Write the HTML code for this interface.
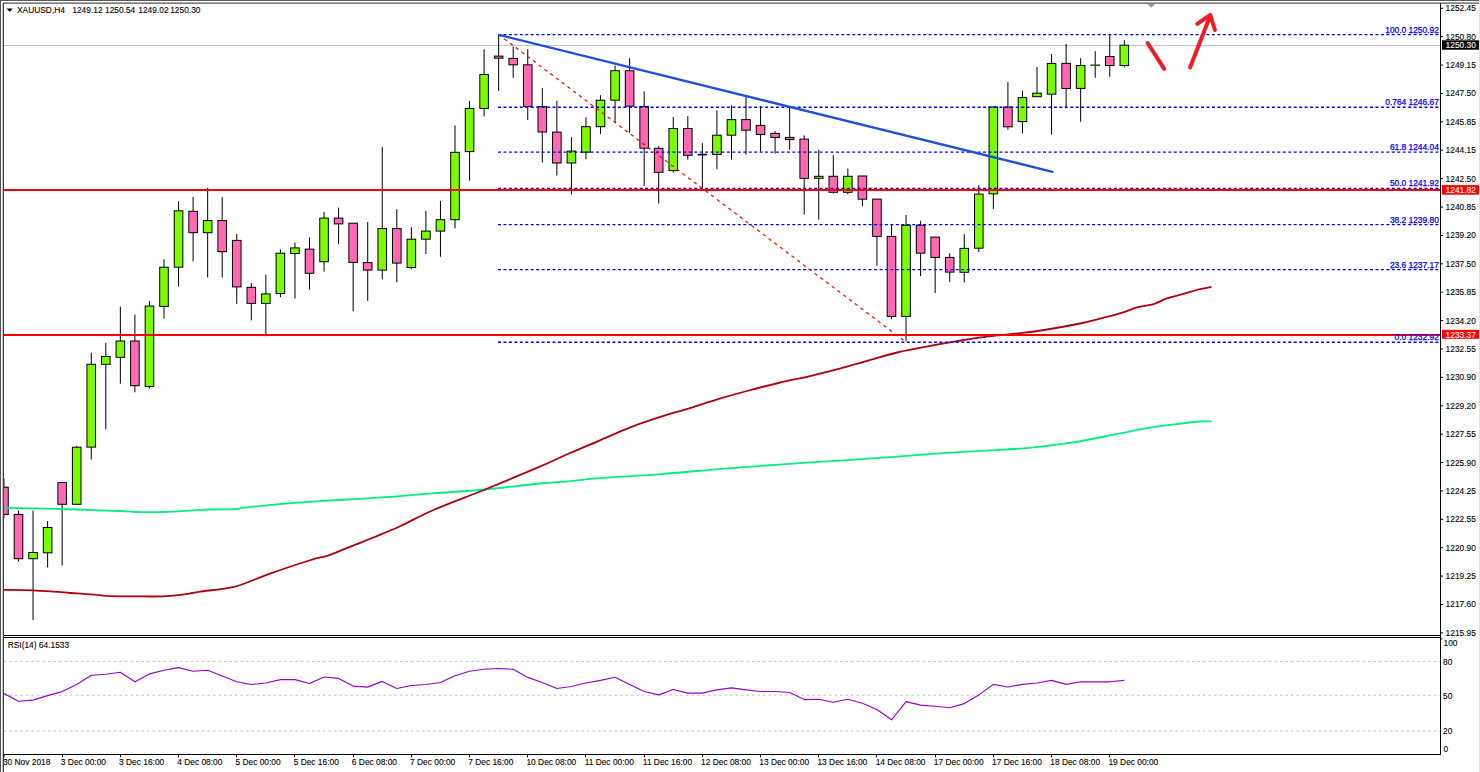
<!DOCTYPE html>
<html><head><meta charset="utf-8"><title>XAUUSD,H4</title>
<style>html,body{margin:0;padding:0;background:#fff;}body{width:1480px;height:772px;overflow:hidden;}svg{display:block;}text{font-family:"Liberation Sans",Arial,sans-serif;font-size:8.4px;fill:#000;stroke:#000;stroke-width:0.1px;}.fib{fill:#0000ff;stroke:#0000ff;stroke-width:0.25px;}.wl{fill:#fff;stroke:#fff;}</style></head><body>
<svg width="1480" height="772" viewBox="0 0 1480 772">
<rect x="0" y="0" width="1480" height="772" fill="#fff"/>
<defs><clipPath id="cm"><rect x="4" y="4" width="1436" height="631"/></clipPath><clipPath id="cr"><rect x="4" y="638" width="1436" height="116"/></clipPath></defs>
<g clip-path="url(#cm)">
<rect x="4" y="45" width="1436" height="1" fill="#c4c4c4"/>
<rect x="3.45" y="478.5" width="1" height="39.5" fill="#000"/>
<rect x="-0.85" y="486.7" width="9.6" height="28.2" fill="#000"/>
<rect x="0.15" y="487.7" width="7.6" height="26.2" fill="#FF69B4"/>
<rect x="18" y="510.6" width="1" height="50.9" fill="#000"/>
<rect x="13.7" y="513.9" width="9.6" height="45.3" fill="#000"/>
<rect x="14.7" y="514.9" width="7.6" height="43.3" fill="#FF69B4"/>
<rect x="32.55" y="510.6" width="1" height="109.4" fill="#000"/>
<rect x="28.25" y="552" width="9.6" height="7.2" fill="#000"/>
<rect x="29.25" y="553" width="7.6" height="5.2" fill="#7CFC00"/>
<rect x="47.1" y="521.2" width="1" height="46.2" fill="#000"/>
<rect x="42.8" y="527" width="9.6" height="26.3" fill="#000"/>
<rect x="43.8" y="528" width="7.6" height="24.3" fill="#7CFC00"/>
<rect x="61.65" y="482.6" width="1" height="82.9" fill="#000"/>
<rect x="57.35" y="482.1" width="9.6" height="22.7" fill="#000"/>
<rect x="58.35" y="483.1" width="7.6" height="20.7" fill="#FF69B4"/>
<rect x="76.2" y="445.8" width="1" height="58.5" fill="#000"/>
<rect x="71.9" y="446.7" width="9.6" height="58.1" fill="#000"/>
<rect x="72.9" y="447.7" width="7.6" height="56.1" fill="#7CFC00"/>
<rect x="90.75" y="352.7" width="1" height="106.8" fill="#000"/>
<rect x="86.45" y="363.8" width="9.6" height="83.8" fill="#000"/>
<rect x="87.45" y="364.8" width="7.6" height="81.8" fill="#7CFC00"/>
<rect x="105.3" y="343" width="1" height="86.2" fill="#000"/>
<rect x="101" y="356" width="9.6" height="8.8" fill="#000"/>
<rect x="102" y="357" width="7.6" height="6.8" fill="#7CFC00"/>
<rect x="119.85" y="306.8" width="1" height="76.9" fill="#000"/>
<rect x="115.55" y="340.5" width="9.6" height="17.3" fill="#000"/>
<rect x="116.55" y="341.5" width="7.6" height="15.3" fill="#7CFC00"/>
<rect x="134.4" y="314.6" width="1" height="77.7" fill="#000"/>
<rect x="130.1" y="340.5" width="9.6" height="45.7" fill="#000"/>
<rect x="131.1" y="341.5" width="7.6" height="43.7" fill="#FF69B4"/>
<rect x="148.95" y="301" width="1" height="87.4" fill="#000"/>
<rect x="144.65" y="305.5" width="9.6" height="81.5" fill="#000"/>
<rect x="145.65" y="306.5" width="7.6" height="79.5" fill="#7CFC00"/>
<rect x="163.5" y="259.4" width="1" height="59.4" fill="#000"/>
<rect x="159.2" y="266.7" width="9.6" height="40.2" fill="#000"/>
<rect x="160.2" y="267.7" width="7.6" height="38.2" fill="#7CFC00"/>
<rect x="178.05" y="201.1" width="1" height="85.5" fill="#000"/>
<rect x="173.75" y="210.3" width="9.6" height="57.4" fill="#000"/>
<rect x="174.75" y="211.3" width="7.6" height="55.4" fill="#7CFC00"/>
<rect x="192.6" y="197" width="1" height="64.3" fill="#000"/>
<rect x="188.3" y="210.8" width="9.6" height="22.4" fill="#000"/>
<rect x="189.3" y="211.8" width="7.6" height="20.4" fill="#FF69B4"/>
<rect x="207.15" y="187.8" width="1" height="89.6" fill="#000"/>
<rect x="202.85" y="220.1" width="9.6" height="13.1" fill="#000"/>
<rect x="203.85" y="221.1" width="7.6" height="11.1" fill="#7CFC00"/>
<rect x="221.7" y="197" width="1" height="80.4" fill="#000"/>
<rect x="217.4" y="220.1" width="9.6" height="32.1" fill="#000"/>
<rect x="218.4" y="221.1" width="7.6" height="30.1" fill="#FF69B4"/>
<rect x="236.25" y="234" width="1" height="69.9" fill="#000"/>
<rect x="231.95" y="239.9" width="9.6" height="47.5" fill="#000"/>
<rect x="232.95" y="240.9" width="7.6" height="45.5" fill="#FF69B4"/>
<rect x="250.8" y="282.9" width="1" height="37.5" fill="#000"/>
<rect x="246.5" y="286.8" width="9.6" height="17.1" fill="#000"/>
<rect x="247.5" y="287.8" width="7.6" height="15.1" fill="#FF69B4"/>
<rect x="265.35" y="274.8" width="1" height="61.4" fill="#000"/>
<rect x="261.05" y="293.4" width="9.6" height="10.5" fill="#000"/>
<rect x="262.05" y="294.4" width="7.6" height="8.5" fill="#7CFC00"/>
<rect x="279.9" y="249.4" width="1" height="47.8" fill="#000"/>
<rect x="275.6" y="252.7" width="9.6" height="41.3" fill="#000"/>
<rect x="276.6" y="253.7" width="7.6" height="39.3" fill="#7CFC00"/>
<rect x="294.45" y="242.6" width="1" height="55.9" fill="#000"/>
<rect x="290.15" y="247.4" width="9.6" height="6.6" fill="#000"/>
<rect x="291.15" y="248.4" width="7.6" height="4.6" fill="#7CFC00"/>
<rect x="309" y="237.4" width="1" height="52.3" fill="#000"/>
<rect x="304.7" y="248.6" width="9.6" height="25.2" fill="#000"/>
<rect x="305.7" y="249.6" width="7.6" height="23.2" fill="#FF69B4"/>
<rect x="323.55" y="211.8" width="1" height="59.9" fill="#000"/>
<rect x="319.25" y="217.6" width="9.6" height="44.6" fill="#000"/>
<rect x="320.25" y="218.6" width="7.6" height="42.6" fill="#7CFC00"/>
<rect x="338.1" y="207.6" width="1" height="36.6" fill="#000"/>
<rect x="333.8" y="217.6" width="9.6" height="6.8" fill="#000"/>
<rect x="334.8" y="218.6" width="7.6" height="4.8" fill="#FF69B4"/>
<rect x="352.65" y="223.2" width="1" height="88.1" fill="#000"/>
<rect x="348.35" y="222.7" width="9.6" height="40.2" fill="#000"/>
<rect x="349.35" y="223.7" width="7.6" height="38.2" fill="#FF69B4"/>
<rect x="367.2" y="222" width="1" height="78.8" fill="#000"/>
<rect x="362.9" y="262.1" width="9.6" height="8.5" fill="#000"/>
<rect x="363.9" y="263.1" width="7.6" height="6.5" fill="#FF69B4"/>
<rect x="381.75" y="147" width="1" height="132.4" fill="#000"/>
<rect x="377.45" y="228.1" width="9.6" height="42.5" fill="#000"/>
<rect x="378.45" y="229.1" width="7.6" height="40.5" fill="#7CFC00"/>
<rect x="396.3" y="209.2" width="1" height="73" fill="#000"/>
<rect x="392" y="228.1" width="9.6" height="35.5" fill="#000"/>
<rect x="393" y="229.1" width="7.6" height="33.5" fill="#FF69B4"/>
<rect x="410.85" y="227.1" width="1" height="42.1" fill="#000"/>
<rect x="406.55" y="238.7" width="9.6" height="29.3" fill="#000"/>
<rect x="407.55" y="239.7" width="7.6" height="27.3" fill="#7CFC00"/>
<rect x="425.4" y="211" width="1" height="43" fill="#000"/>
<rect x="421.1" y="230.6" width="9.6" height="9.1" fill="#000"/>
<rect x="422.1" y="231.6" width="7.6" height="7.1" fill="#7CFC00"/>
<rect x="439.95" y="200.8" width="1" height="55.9" fill="#000"/>
<rect x="435.65" y="219.2" width="9.6" height="12.4" fill="#000"/>
<rect x="436.65" y="220.2" width="7.6" height="10.4" fill="#7CFC00"/>
<rect x="454.5" y="125.4" width="1" height="103" fill="#000"/>
<rect x="450.2" y="151.8" width="9.6" height="68.4" fill="#000"/>
<rect x="451.2" y="152.8" width="7.6" height="66.4" fill="#7CFC00"/>
<rect x="469.05" y="100.8" width="1" height="79.8" fill="#000"/>
<rect x="464.75" y="108" width="9.6" height="44.1" fill="#000"/>
<rect x="465.75" y="109" width="7.6" height="42.1" fill="#7CFC00"/>
<rect x="483.6" y="49.3" width="1" height="67.1" fill="#000"/>
<rect x="479.3" y="74" width="9.6" height="35" fill="#000"/>
<rect x="480.3" y="75" width="7.6" height="33" fill="#7CFC00"/>
<rect x="498.15" y="34" width="1" height="57" fill="#000"/>
<rect x="493.85" y="55.6" width="9.6" height="3.1" fill="#000"/>
<rect x="494.85" y="56.6" width="7.6" height="1.1" fill="#FF69B4"/>
<rect x="512.7" y="46.4" width="1" height="31.4" fill="#000"/>
<rect x="508.4" y="57.9" width="9.6" height="7.4" fill="#000"/>
<rect x="509.4" y="58.9" width="7.6" height="5.4" fill="#FF69B4"/>
<rect x="527.25" y="49.3" width="1" height="70.8" fill="#000"/>
<rect x="522.95" y="64.3" width="9.6" height="42.6" fill="#000"/>
<rect x="523.95" y="65.3" width="7.6" height="40.6" fill="#FF69B4"/>
<rect x="541.8" y="88.1" width="1" height="74.4" fill="#000"/>
<rect x="537.5" y="106.1" width="9.6" height="26.4" fill="#000"/>
<rect x="538.5" y="107.1" width="7.6" height="24.4" fill="#FF69B4"/>
<rect x="556.35" y="100.8" width="1" height="74.6" fill="#000"/>
<rect x="552.05" y="131.6" width="9.6" height="31.9" fill="#000"/>
<rect x="553.05" y="132.6" width="7.6" height="29.9" fill="#FF69B4"/>
<rect x="570.9" y="137.1" width="1" height="57.4" fill="#000"/>
<rect x="566.6" y="150.6" width="9.6" height="12.9" fill="#000"/>
<rect x="567.6" y="151.6" width="7.6" height="10.9" fill="#7CFC00"/>
<rect x="585.45" y="117.4" width="1" height="42" fill="#000"/>
<rect x="581.15" y="126.2" width="9.6" height="26.5" fill="#000"/>
<rect x="582.15" y="127.2" width="7.6" height="24.5" fill="#7CFC00"/>
<rect x="600" y="95.2" width="1" height="38.7" fill="#000"/>
<rect x="595.7" y="99.7" width="9.6" height="27.5" fill="#000"/>
<rect x="596.7" y="100.7" width="7.6" height="25.5" fill="#7CFC00"/>
<rect x="614.55" y="65.5" width="1" height="57.5" fill="#000"/>
<rect x="610.25" y="70.2" width="9.6" height="30.5" fill="#000"/>
<rect x="611.25" y="71.2" width="7.6" height="28.5" fill="#7CFC00"/>
<rect x="629.1" y="58.3" width="1" height="74.6" fill="#000"/>
<rect x="624.8" y="70.2" width="9.6" height="36.5" fill="#000"/>
<rect x="625.8" y="71.2" width="7.6" height="34.5" fill="#FF69B4"/>
<rect x="643.65" y="91.5" width="1" height="94.3" fill="#000"/>
<rect x="639.35" y="105.9" width="9.6" height="42.8" fill="#000"/>
<rect x="640.35" y="106.9" width="7.6" height="40.8" fill="#FF69B4"/>
<rect x="658.2" y="146.3" width="1" height="57.2" fill="#000"/>
<rect x="653.9" y="147.8" width="9.6" height="25" fill="#000"/>
<rect x="654.9" y="148.8" width="7.6" height="23" fill="#FF69B4"/>
<rect x="672.75" y="117" width="1" height="55.6" fill="#000"/>
<rect x="668.45" y="128" width="9.6" height="43.1" fill="#000"/>
<rect x="669.45" y="129" width="7.6" height="41.1" fill="#7CFC00"/>
<rect x="687.3" y="116.2" width="1" height="43.4" fill="#000"/>
<rect x="683" y="128" width="9.6" height="27.8" fill="#000"/>
<rect x="684" y="129" width="7.6" height="25.8" fill="#FF69B4"/>
<rect x="701.85" y="143.1" width="1" height="44.6" fill="#000"/>
<rect x="697.55" y="153.8" width="9.6" height="1.6" fill="#000"/>
<rect x="716.4" y="110.3" width="1" height="58.9" fill="#000"/>
<rect x="712.1" y="134.7" width="9.6" height="20.2" fill="#000"/>
<rect x="713.1" y="135.7" width="7.6" height="18.2" fill="#7CFC00"/>
<rect x="730.95" y="105.3" width="1" height="54.3" fill="#000"/>
<rect x="726.65" y="119.1" width="9.6" height="16.6" fill="#000"/>
<rect x="727.65" y="120.1" width="7.6" height="14.6" fill="#7CFC00"/>
<rect x="745.5" y="96.8" width="1" height="57.8" fill="#000"/>
<rect x="741.2" y="119.1" width="9.6" height="11.6" fill="#000"/>
<rect x="742.2" y="120.1" width="7.6" height="9.6" fill="#FF69B4"/>
<rect x="760.05" y="106.2" width="1" height="45.5" fill="#000"/>
<rect x="755.75" y="124.9" width="9.6" height="10" fill="#000"/>
<rect x="756.75" y="125.9" width="7.6" height="8" fill="#FF69B4"/>
<rect x="774.6" y="131.2" width="1" height="22.4" fill="#000"/>
<rect x="770.3" y="132.9" width="9.6" height="5" fill="#000"/>
<rect x="771.3" y="133.9" width="7.6" height="3" fill="#FF69B4"/>
<rect x="789.15" y="107.6" width="1" height="42.1" fill="#000"/>
<rect x="784.85" y="136.9" width="9.6" height="3.2" fill="#000"/>
<rect x="785.85" y="137.9" width="7.6" height="1.2" fill="#FF69B4"/>
<rect x="803.7" y="135.4" width="1" height="79.1" fill="#000"/>
<rect x="799.4" y="138.6" width="9.6" height="40.2" fill="#000"/>
<rect x="800.4" y="139.6" width="7.6" height="38.2" fill="#FF69B4"/>
<rect x="818.25" y="149.7" width="1" height="69.9" fill="#000"/>
<rect x="813.95" y="175.8" width="9.6" height="3" fill="#000"/>
<rect x="814.95" y="176.8" width="7.6" height="1" fill="#7CFC00"/>
<rect x="832.8" y="155.1" width="1" height="38.4" fill="#000"/>
<rect x="828.5" y="175.8" width="9.6" height="17" fill="#000"/>
<rect x="829.5" y="176.8" width="7.6" height="15" fill="#FF69B4"/>
<rect x="847.35" y="168.7" width="1" height="25.6" fill="#000"/>
<rect x="843.05" y="175.8" width="9.6" height="17" fill="#000"/>
<rect x="844.05" y="176.8" width="7.6" height="15" fill="#7CFC00"/>
<rect x="861.9" y="176" width="1" height="30.2" fill="#000"/>
<rect x="857.6" y="175.5" width="9.6" height="24.2" fill="#000"/>
<rect x="858.6" y="176.5" width="7.6" height="22.2" fill="#FF69B4"/>
<rect x="876.45" y="199.1" width="1" height="66.5" fill="#000"/>
<rect x="872.15" y="198.6" width="9.6" height="38.3" fill="#000"/>
<rect x="873.15" y="199.6" width="7.6" height="36.3" fill="#FF69B4"/>
<rect x="891" y="224.1" width="1" height="95.1" fill="#000"/>
<rect x="886.7" y="235.9" width="9.6" height="81" fill="#000"/>
<rect x="887.7" y="236.9" width="7.6" height="79" fill="#FF69B4"/>
<rect x="905.55" y="215" width="1" height="126.3" fill="#000"/>
<rect x="901.25" y="224.7" width="9.6" height="92.2" fill="#000"/>
<rect x="902.25" y="225.7" width="7.6" height="90.2" fill="#7CFC00"/>
<rect x="920.1" y="220.8" width="1" height="55.3" fill="#000"/>
<rect x="915.8" y="224.7" width="9.6" height="29" fill="#000"/>
<rect x="916.8" y="225.7" width="7.6" height="27" fill="#FF69B4"/>
<rect x="934.65" y="237.1" width="1" height="56" fill="#000"/>
<rect x="930.35" y="236.6" width="9.6" height="21.3" fill="#000"/>
<rect x="931.35" y="237.6" width="7.6" height="19.3" fill="#FF69B4"/>
<rect x="949.2" y="253.2" width="1" height="28.7" fill="#000"/>
<rect x="944.9" y="256.9" width="9.6" height="15.7" fill="#000"/>
<rect x="945.9" y="257.9" width="7.6" height="13.7" fill="#FF69B4"/>
<rect x="963.75" y="234.2" width="1" height="48.2" fill="#000"/>
<rect x="959.45" y="247.9" width="9.6" height="24.9" fill="#000"/>
<rect x="960.45" y="248.9" width="7.6" height="22.9" fill="#7CFC00"/>
<rect x="978.3" y="185.1" width="1" height="67" fill="#000"/>
<rect x="974" y="193.6" width="9.6" height="55.1" fill="#000"/>
<rect x="975" y="194.6" width="7.6" height="53.1" fill="#7CFC00"/>
<rect x="992.85" y="106.4" width="1" height="102.6" fill="#000"/>
<rect x="988.55" y="106.5" width="9.6" height="87.8" fill="#000"/>
<rect x="989.55" y="107.5" width="7.6" height="85.8" fill="#7CFC00"/>
<rect x="1007.4" y="82.1" width="1" height="47.6" fill="#000"/>
<rect x="1003.1" y="106.5" width="9.6" height="20.8" fill="#000"/>
<rect x="1004.1" y="107.5" width="7.6" height="18.8" fill="#FF69B4"/>
<rect x="1021.95" y="90.8" width="1" height="42.5" fill="#000"/>
<rect x="1017.65" y="97.1" width="9.6" height="25" fill="#000"/>
<rect x="1018.65" y="98.1" width="7.6" height="23" fill="#7CFC00"/>
<rect x="1036.5" y="67" width="1" height="29.7" fill="#000"/>
<rect x="1032.2" y="92.7" width="9.6" height="4.5" fill="#000"/>
<rect x="1033.2" y="93.7" width="7.6" height="2.5" fill="#7CFC00"/>
<rect x="1051.05" y="54" width="1" height="80.6" fill="#000"/>
<rect x="1046.75" y="62.9" width="9.6" height="31.8" fill="#000"/>
<rect x="1047.75" y="63.9" width="7.6" height="29.8" fill="#7CFC00"/>
<rect x="1065.6" y="44" width="1" height="64.3" fill="#000"/>
<rect x="1061.3" y="62.9" width="9.6" height="26.1" fill="#000"/>
<rect x="1062.3" y="63.9" width="7.6" height="24.1" fill="#FF69B4"/>
<rect x="1080.15" y="58.1" width="1" height="63.7" fill="#000"/>
<rect x="1075.85" y="65" width="9.6" height="23.9" fill="#000"/>
<rect x="1076.85" y="66" width="7.6" height="21.9" fill="#7CFC00"/>
<rect x="1094.7" y="51.1" width="1" height="26.7" fill="#000"/>
<rect x="1090.4" y="64.4" width="9.6" height="1.6" fill="#1a6a00"/>
<rect x="1109.25" y="34.8" width="1" height="41.9" fill="#000"/>
<rect x="1104.95" y="56" width="9.6" height="10" fill="#000"/>
<rect x="1105.95" y="57" width="7.6" height="8" fill="#FF69B4"/>
<rect x="1123.8" y="40.2" width="1" height="27.2" fill="#000"/>
<rect x="1119.5" y="44.7" width="9.6" height="21.3" fill="#000"/>
<rect x="1120.5" y="45.7" width="7.6" height="19.3" fill="#7CFC00"/>
<path d="M4,507.8 C8.73,507.9 20,508.12 32.4,508.4 C44.8,508.68 67.13,509.18 78.4,509.5 C89.67,509.82 93.02,510.05 100,510.3 C106.98,510.55 114.38,510.72 120.3,511 C126.22,511.28 128.23,511.83 135.5,512 C142.77,512.17 154.28,512.28 163.9,512 C173.52,511.72 185.77,510.72 193.2,510.3 C200.63,509.88 201.4,509.7 208.5,509.5 C215.6,509.3 229.9,509.4 235.8,509.1 C241.7,508.8 238.83,508.33 243.9,507.7 C248.97,507.07 257.75,506.12 266.2,505.3 C274.65,504.48 285.13,503.55 294.6,502.8 C304.07,502.05 313.2,501.4 323,500.8 C332.8,500.2 343.27,499.8 353.4,499.2 C363.53,498.6 376.03,497.72 383.8,497.2 C391.57,496.68 391.53,496.77 400,496.1 C408.47,495.43 420.42,494.3 434.6,493.2 C448.78,492.1 467.75,491.12 485.1,489.5 C502.45,487.88 524.82,484.87 538.7,483.5 C552.58,482.13 558.18,482.2 568.4,481.3 C578.62,480.4 584.6,479.3 600,478.1 C615.4,476.9 640.53,475.65 660.8,474.1 C681.07,472.55 701.33,470.43 721.6,468.8 C741.87,467.17 762.12,465.72 782.4,464.3 C802.68,462.88 823.7,461.62 843.3,460.3 C862.9,458.98 883.35,457.58 900,456.4 C916.65,455.22 928.78,454.17 943.2,453.2 C957.62,452.23 972.08,451.5 986.5,450.6 C1000.92,449.7 1015.28,449.17 1029.7,447.8 C1044.12,446.43 1058.58,444.67 1073,442.4 C1087.42,440.13 1105.4,436.28 1116.2,434.2 C1127,432.12 1130.58,431.23 1137.8,429.9 C1145.02,428.57 1152.28,427.25 1159.5,426.2 C1166.72,425.15 1174.62,424.38 1181.1,423.6 C1187.58,422.82 1193.35,421.85 1198.4,421.5 C1203.45,421.15 1209.23,421.5 1211.4,421.5" fill="none" stroke="#00F07F" stroke-width="1.8"/>
<path d="M4,589.9 C8.73,589.97 24.07,590.02 32.4,590.3 C40.73,590.58 47.68,591.15 54,591.6 C60.32,592.05 65.33,592.62 70.3,593 C75.27,593.38 78.62,593.52 83.8,593.9 C88.98,594.28 97.35,594.92 101.4,595.3 C105.45,595.68 102.48,596.02 108.1,596.2 C113.72,596.38 126.08,596.37 135.1,596.4 C144.12,596.43 155.43,596.58 162.2,596.4 C168.97,596.22 171.2,595.77 175.7,595.3 C180.2,594.83 185.15,594.22 189.2,593.6 C193.25,592.98 192.37,592.77 200,591.6 C207.63,590.43 223.47,589.55 235,586.6 C246.53,583.65 256.82,578.25 269.2,573.9 C281.58,569.55 299.38,563.6 309.3,560.5 C319.22,557.4 323,557.15 328.7,555.3 C334.4,553.45 336.08,552.37 343.5,549.4 C350.92,546.43 363.78,541.37 373.2,537.5 C382.62,533.63 389.77,530.87 400,526.2 C410.23,521.53 420.42,515.62 434.6,509.5 C448.78,503.38 467.75,496.55 485.1,489.5 C502.45,482.45 524.82,473.15 538.7,467.2 C552.58,461.25 558.18,458.28 568.4,453.8 C578.62,449.32 589.78,444.67 600,440.3 C610.22,435.93 619.78,431.45 629.7,427.6 C639.62,423.75 649.58,420.42 659.5,417.2 C669.42,413.98 679.3,411.35 689.2,408.3 C699.1,405.25 708.98,401.87 718.9,398.9 C728.82,395.93 738.78,393.15 748.7,390.5 C758.62,387.85 768.18,385.4 778.4,383 C788.62,380.6 799.78,378.48 810,376.1 C820.22,373.72 829.78,371.35 839.7,368.7 C849.62,366.05 859.58,362.98 869.5,360.2 C879.42,357.42 889.3,354.35 899.2,352 C909.1,349.65 918.98,347.95 928.9,346.1 C938.82,344.25 948.78,342.52 958.7,340.9 C968.62,339.28 978.18,337.68 988.4,336.4 C998.62,335.12 1010.23,334.35 1020,333.2 C1029.77,332.05 1037,331.12 1047,329.5 C1057,327.88 1071.35,325.28 1080,323.5 C1088.65,321.72 1091.8,320.62 1098.9,318.8 C1106,316.98 1116.28,314.5 1122.6,312.6 C1128.92,310.7 1131.6,308.82 1136.8,307.4 C1142,305.98 1148.77,305.6 1153.8,304.1 C1158.83,302.6 1161.95,300.13 1167,298.4 C1172.05,296.67 1178.88,295.18 1184.1,293.7 C1189.32,292.22 1193.73,290.65 1198.3,289.5 C1202.87,288.35 1209.3,287.25 1211.5,286.8" fill="none" stroke="#B0000C" stroke-width="1.8"/>
<line x1="498" y1="34.6" x2="1440" y2="34.6" stroke="#0000ff" stroke-width="1.4" stroke-dasharray="3 2.45"/>
<line x1="498" y1="107.2" x2="1440" y2="107.2" stroke="#0000ff" stroke-width="1.4" stroke-dasharray="3 2.45"/>
<line x1="498" y1="152.1" x2="1440" y2="152.1" stroke="#0000ff" stroke-width="1.4" stroke-dasharray="3 2.45"/>
<line x1="498" y1="188.4" x2="1440" y2="188.4" stroke="#0000ff" stroke-width="1.4" stroke-dasharray="3 2.45"/>
<line x1="498" y1="224.6" x2="1440" y2="224.6" stroke="#0000ff" stroke-width="1.4" stroke-dasharray="3 2.45"/>
<line x1="498" y1="269.6" x2="1440" y2="269.6" stroke="#0000ff" stroke-width="1.4" stroke-dasharray="3 2.45"/>
<line x1="498" y1="342.3" x2="1440" y2="342.3" stroke="#0000ff" stroke-width="1.4" stroke-dasharray="3 2.45"/>
<rect x="4" y="189" width="1436" height="2" fill="#ff0000"/>
<rect x="4" y="334" width="1436" height="2" fill="#ff0000"/>
<line x1="498.5" y1="34.5" x2="905.5" y2="341.8" stroke="#ff0000" stroke-width="1.2" stroke-dasharray="3.4 3.8"/>
<line x1="499" y1="34.9" x2="1052.5" y2="171.8" stroke="#1E4FE0" stroke-width="2.4" stroke-linecap="round"/>
<g stroke="#ee1c24" stroke-width="4" stroke-linecap="round" stroke-linejoin="round" fill="none"><line x1="1147.6" y1="43" x2="1164.2" y2="68.9"/><line x1="1190.1" y1="67.4" x2="1210.3" y2="15.5"/><polyline points="1197.3,23.8 1210.3,15 1214.9,30"/></g>
<polygon points="1147,3.6 1155.5,3.6 1151.2,7.8" fill="#a0a0a0"/>
<text class="fib" x="1438.8" y="32.6" text-anchor="end">100.0 1250.92</text>
<text class="fib" x="1438.8" y="105.2" text-anchor="end">0.764 1246.67</text>
<text class="fib" x="1438.8" y="150.1" text-anchor="end">61.8 1244.04</text>
<text class="fib" x="1438.8" y="186.4" text-anchor="end">50.0 1241.92</text>
<text class="fib" x="1438.8" y="222.6" text-anchor="end">38.2 1239.80</text>
<text class="fib" x="1438.8" y="267.6" text-anchor="end">23.6 1237.17</text>
<text class="fib" x="1438.8" y="340.3" text-anchor="end">0.0 1232.92</text>
<polygon points="6.4,8.6 13,8.6 9.7,11.8" fill="#000"/>
<text x="17" y="13.1">XAUUSD,H4</text>
<text x="72.3" y="13.1">1249.12</text>
<text x="105" y="13.1">1250.54</text>
<text x="138.3" y="13.1">1249.02</text>
<text x="170.2" y="13.1">1250.30</text>
</g>
<g clip-path="url(#cr)">
<line x1="4" y1="661.4" x2="1440" y2="661.4" stroke="#c0c0c0" stroke-width="1" stroke-dasharray="2.4 3.1"/>
<line x1="4" y1="695.2" x2="1440" y2="695.2" stroke="#c0c0c0" stroke-width="1" stroke-dasharray="2.4 3.1"/>
<line x1="4" y1="731" x2="1440" y2="731" stroke="#c0c0c0" stroke-width="1" stroke-dasharray="2.4 3.1"/>
<polyline points="3.95,693.6 18.5,701.3 33.05,700.1 47.6,695.6 62.15,691.6 76.7,684.5 91.25,675.3 105.8,674.3 120.35,672.3 134.9,681.8 149.45,673.9 164,670.3 178.55,667.6 193.1,671.3 207.65,670.3 222.2,676 236.75,681.8 251.3,684.5 265.85,683 280.4,679.6 294.95,679.6 309.5,683.5 324.05,677 338.6,678.4 353.15,686.1 367.7,687.1 382.25,681.4 396.8,688.5 411.35,685.5 425.9,684.5 440.45,682.5 455,675.8 469.55,671.3 484.1,669.3 498.65,668.5 513.2,669.3 527.75,677.4 542.3,682.5 556.85,688.5 571.4,686.5 585.95,683 600.5,680.4 615.05,677.3 629.6,684.4 644.15,691.5 658.7,694.9 673.25,689.5 687.8,693.1 702.35,693.1 716.9,689.9 731.45,687.9 746,689.9 760.55,691.5 775.1,691.5 789.65,692.5 804.2,699.6 818.75,699.2 833.3,702.2 847.85,699.2 862.4,703.3 876.95,709.5 891.5,719.8 906.05,701.6 920.6,705.1 935.15,706.3 949.7,707.7 964.25,703.6 978.8,694.9 993.35,684.4 1007.9,687 1022.45,684.4 1037,683 1051.55,680.4 1066.1,684.4 1080.65,681.8 1095.2,681.8 1109.75,681.8 1124.3,680.4" fill="none" stroke="#9400D3" stroke-width="1.15" stroke-linejoin="round"/>
<text x="7.7" y="648.3">RSI(14) 64.1533</text>
</g>
<rect x="0" y="0" width="1480" height="1" fill="#5a5a5a"/>
<rect x="0" y="0" width="1" height="772" fill="#555"/>
<rect x="1479" y="0" width="1" height="772" fill="#e3e3e3"/>
<rect x="3" y="2.4" width="1476" height="1.5" fill="#707070"/>
<rect x="2" y="3" width="1" height="769" fill="#c4c4c4"/>
<rect x="3" y="3" width="1" height="769" fill="#404040"/>
<rect x="4" y="635" width="1437" height="1" fill="#000"/>
<rect x="4" y="637" width="1437" height="1" fill="#000"/>
<rect x="4" y="754" width="1437" height="1" fill="#000"/>
<rect x="1440" y="3.5" width="1" height="751" fill="#000"/>
<rect x="1441" y="7.8" width="2" height="1" fill="#000"/>
<text x="1445.6" y="11.3">1252.45</text>
<rect x="1441" y="36.19" width="2" height="1" fill="#000"/>
<text x="1445.6" y="39.69">1250.80</text>
<rect x="1441" y="64.58" width="2" height="1" fill="#000"/>
<text x="1445.6" y="68.08">1249.15</text>
<rect x="1441" y="92.97" width="2" height="1" fill="#000"/>
<text x="1445.6" y="96.47">1247.50</text>
<rect x="1441" y="121.36" width="2" height="1" fill="#000"/>
<text x="1445.6" y="124.86">1245.85</text>
<rect x="1441" y="149.75" width="2" height="1" fill="#000"/>
<text x="1445.6" y="153.25">1244.15</text>
<rect x="1441" y="178.14" width="2" height="1" fill="#000"/>
<text x="1445.6" y="181.64">1242.50</text>
<rect x="1441" y="206.53" width="2" height="1" fill="#000"/>
<text x="1445.6" y="210.03">1240.85</text>
<rect x="1441" y="234.92" width="2" height="1" fill="#000"/>
<text x="1445.6" y="238.42">1239.20</text>
<rect x="1441" y="263.31" width="2" height="1" fill="#000"/>
<text x="1445.6" y="266.81">1237.50</text>
<rect x="1441" y="291.7" width="2" height="1" fill="#000"/>
<text x="1445.6" y="295.2">1235.85</text>
<rect x="1441" y="320.09" width="2" height="1" fill="#000"/>
<text x="1445.6" y="323.59">1234.20</text>
<rect x="1441" y="348.48" width="2" height="1" fill="#000"/>
<text x="1445.6" y="351.98">1232.55</text>
<rect x="1441" y="376.87" width="2" height="1" fill="#000"/>
<text x="1445.6" y="380.37">1230.90</text>
<rect x="1441" y="405.26" width="2" height="1" fill="#000"/>
<text x="1445.6" y="408.76">1229.20</text>
<rect x="1441" y="433.65" width="2" height="1" fill="#000"/>
<text x="1445.6" y="437.15">1227.55</text>
<rect x="1441" y="462.04" width="2" height="1" fill="#000"/>
<text x="1445.6" y="465.54">1225.90</text>
<rect x="1441" y="490.43" width="2" height="1" fill="#000"/>
<text x="1445.6" y="493.93">1224.25</text>
<rect x="1441" y="518.82" width="2" height="1" fill="#000"/>
<text x="1445.6" y="522.32">1222.55</text>
<rect x="1441" y="547.21" width="2" height="1" fill="#000"/>
<text x="1445.6" y="550.71">1220.90</text>
<rect x="1441" y="575.6" width="2" height="1" fill="#000"/>
<text x="1445.6" y="579.1">1219.25</text>
<rect x="1441" y="603.99" width="2" height="1" fill="#000"/>
<text x="1445.6" y="607.49">1217.60</text>
<rect x="1441" y="632.38" width="2" height="1" fill="#000"/>
<text x="1445.6" y="635.88">1215.95</text>
<rect x="1442" y="40.3" width="37" height="9.4" fill="#000"/>
<text class="wl" x="1445.6" y="48.2">1250.30</text>
<rect x="1442" y="185.1" width="37" height="9.6" fill="#ff0000"/>
<text class="wl" x="1445.6" y="193">1241.82</text>
<rect x="1442" y="329.8" width="37" height="9.0" fill="#ff0000"/>
<text class="wl" x="1445.6" y="337.7">1233.37</text>
<text x="1443.5" y="646.2">100</text>
<text x="1443" y="664.5">80</text>
<text x="1443" y="698.8">50</text>
<text x="1443" y="733.9">20</text>
<text x="1443.5" y="751.5">0</text>
<rect x="1441" y="638.3" width="1.5" height="1" fill="#000"/>
<text x="2.9" y="765.1">30 Nov 2018</text>
<rect x="62" y="755" width="1" height="2.3" fill="#000"/>
<text x="60.85" y="765.1">3 Dec 00:00</text>
<rect x="120" y="755" width="1" height="2.3" fill="#000"/>
<text x="119.05" y="765.1">3 Dec 16:00</text>
<rect x="178" y="755" width="1" height="2.3" fill="#000"/>
<text x="177.25" y="765.1">4 Dec 08:00</text>
<rect x="236" y="755" width="1" height="2.3" fill="#000"/>
<text x="235.45" y="765.1">5 Dec 00:00</text>
<rect x="294" y="755" width="1" height="2.3" fill="#000"/>
<text x="293.65" y="765.1">5 Dec 16:00</text>
<rect x="353" y="755" width="1" height="2.3" fill="#000"/>
<text x="351.85" y="765.1">6 Dec 08:00</text>
<rect x="411" y="755" width="1" height="2.3" fill="#000"/>
<text x="410.05" y="765.1">7 Dec 00:00</text>
<rect x="469" y="755" width="1" height="2.3" fill="#000"/>
<text x="468.25" y="765.1">7 Dec 16:00</text>
<rect x="527" y="755" width="1" height="2.3" fill="#000"/>
<text x="526.45" y="765.1">10 Dec 08:00</text>
<rect x="585" y="755" width="1" height="2.3" fill="#000"/>
<text x="584.65" y="765.1">11 Dec 00:00</text>
<rect x="644" y="755" width="1" height="2.3" fill="#000"/>
<text x="642.85" y="765.1">11 Dec 16:00</text>
<rect x="702" y="755" width="1" height="2.3" fill="#000"/>
<text x="701.05" y="765.1">12 Dec 08:00</text>
<rect x="760" y="755" width="1" height="2.3" fill="#000"/>
<text x="759.25" y="765.1">13 Dec 00:00</text>
<rect x="818" y="755" width="1" height="2.3" fill="#000"/>
<text x="817.45" y="765.1">13 Dec 16:00</text>
<rect x="876" y="755" width="1" height="2.3" fill="#000"/>
<text x="875.65" y="765.1">14 Dec 08:00</text>
<rect x="935" y="755" width="1" height="2.3" fill="#000"/>
<text x="933.85" y="765.1">17 Dec 00:00</text>
<rect x="993" y="755" width="1" height="2.3" fill="#000"/>
<text x="992.05" y="765.1">17 Dec 16:00</text>
<rect x="1051" y="755" width="1" height="2.3" fill="#000"/>
<text x="1050.25" y="765.1">18 Dec 08:00</text>
<rect x="1109" y="755" width="1" height="2.3" fill="#000"/>
<text x="1108.45" y="765.1">19 Dec 00:00</text>
<rect x="3.5" y="754" width="1" height="3.3" fill="#000"/>
</svg></body></html>
